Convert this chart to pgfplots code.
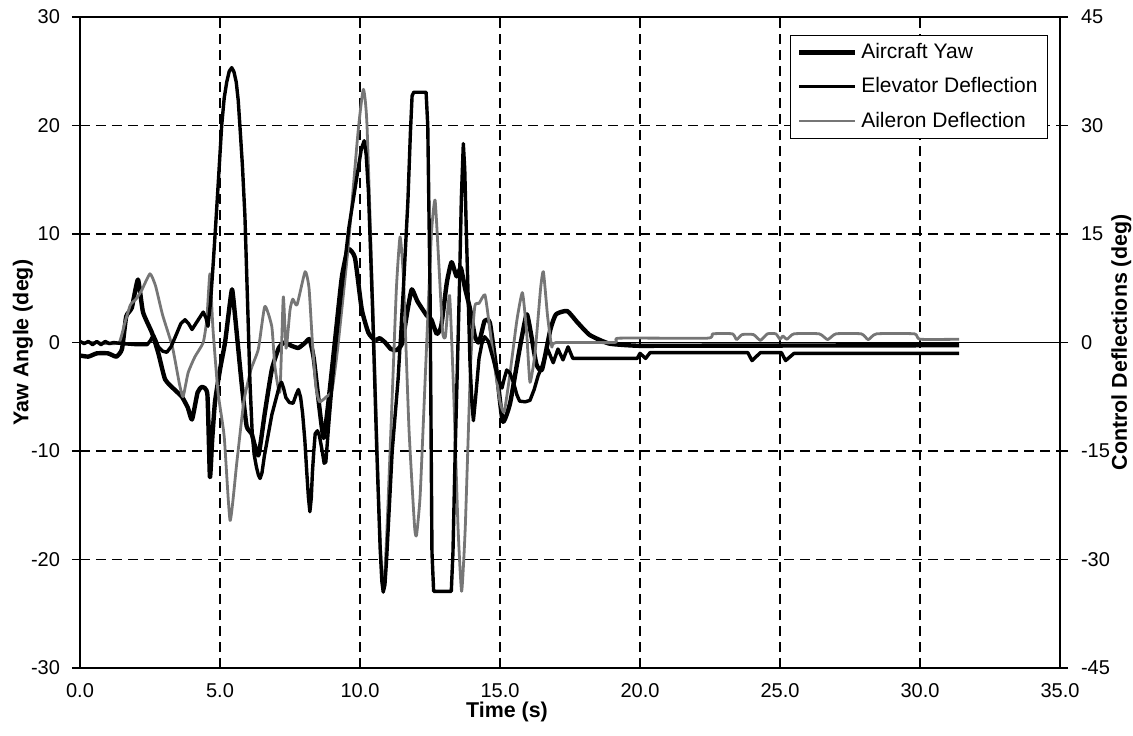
\documentclass[border=0pt]{standalone}
\usepackage{pgfplots}
\pgfplotsset{compat=1.18}
\usepackage{fontspec}
\setmainfont{Liberation Sans}
\definecolor{ailgray}{RGB}{118,118,118}

\pgfplotsset{
  base/.style={
    width=490pt, height=325.5pt, scale only axis,
    xmin=0, xmax=35,
    tick label style={font=\fontsize{10}{12}\selectfont},
    /pgf/number format/assume math mode=true,
    label style={font=\bfseries\fontsize{10.7}{13}\selectfont},
    tick align=outside, major tick length=4pt,
    tick style={black, line width=0.8pt},
    axis line style={line width=1pt},
  },
  yawline/.style={black, line width=2.2pt, line join=round},
  eleline/.style={black, line width=1.7pt, line join=round},
  ailline/.style={ailgray, line width=1.4pt, line join=round},
}

\begin{document}
\begin{tikzpicture}
% left axis: yaw angle, frame and grid
\begin{axis}[base,
  ymin=-30, ymax=30,
  ytick={-30,-20,-10,10,20,30},
  extra y ticks={0},
  extra y tick style={major grid style={solid, black, line width=0.5pt}},
  xtick={0,5,...,35},
  xticklabel style={/pgf/number format/.cd, fixed, fixed zerofill, precision=1},
  yticklabel style={xshift=-2.5pt},
  x tick style={draw=none},
  ytick pos=left, xtick pos=bottom,
  xmajorgrids, ymajorgrids,
  grid style={black, line width=0.6pt, dash pattern=on 5pt off 3pt},
  xlabel={Time (s)},
  xlabel style={at={(axis description cs:0.4357,-0.0676)}, anchor=center},
  ylabel={Yaw Angle (deg)},
  ylabel style={at={(axis description cs:-0.0582,0.5)}, anchor=center},
]
\addplot[yawline, smooth, tension=0.3] table {
0.00 -1.2
0.30 -1.3
0.60 -1.0
1.00 -1.0
1.30 -1.3
1.50 -0.6
1.65 2.4
1.85 3.2
2.07 5.8
2.25 2.8
2.57 0.9
2.80 -1.0
3.04 -3.4
3.40 -4.4
3.64 -5.0
3.85 -6.0
4.00 -7.1
4.20 -4.6
4.36 -4.1
4.55 -4.8
4.64 -12.4
4.72 -9.0
4.82 -5.5
5.00 -2.5
5.18 0.0
5.30 2.5
5.43 4.9
5.54 2.4
5.77 -3.7
5.95 -7.7
6.13 -8.4
6.37 -10.4
6.60 -6.5
6.85 -2.5
7.10 -0.5
7.30 0.0
7.55 -0.3
7.80 -0.5
8.05 0.0
8.20 0.3
8.35 -1.5
8.55 -6.0
8.70 -8.8
8.85 -6.0
9.10 0.0
9.35 6.0
9.57 8.6
9.82 7.8
10.06 3.1
10.30 0.9
10.54 0.2
10.70 0.4
10.90 0.0
11.10 -0.6
11.30 -0.7
11.50 -0.1
11.70 3.0
11.85 4.9
12.05 3.8
12.38 2.5
12.55 2.1
12.74 0.8
12.90 1.5
13.10 5.5
13.27 7.4
13.45 6.1
13.60 6.9
13.75 5.0
13.93 3.1
14.10 0.6
14.25 0.0
14.45 2.0
14.64 1.8
14.90 -3.1
15.10 -7.3
15.36 -5.6
15.70 -0.6
15.95 2.6
16.10 0.9
16.30 -2.0
16.50 -2.5
16.80 1.2
17.00 2.6
17.40 2.9
17.75 1.9
18.20 0.7
18.90 -0.1
19.90 -0.3
21.00 -0.3
31.40 -0.25
};
\end{axis}

% right axis: control deflections
\begin{axis}[base,
  ymin=-45, ymax=45,
  ytick={-45,-30,...,45},
  yticklabel style={xshift=3pt},
  axis y line*=right, axis x line=none,
  ylabel={Control Deflections (deg)},
  ylabel style={at={(axis description cs:1.0625,0.5)}, anchor=center},
  legend style={at={(0.9878,0.9724)}, anchor=north east, draw=black,
    line width=0.5pt, fill=white, font=\fontsize{10.5}{12}\selectfont,
    inner xsep=3pt, inner ysep=2pt, row sep=4pt, cells={anchor=west}},
  legend image code/.code={\draw[#1] (0pt,0pt) -- (28pt,0pt);},
]
\addlegendimage{yawline}
\addlegendentry{Aircraft Yaw}
\addlegendimage{eleline}
\addlegendentry{Elevator Deflection}
\addlegendimage{ailline}
\addlegendentry{Aileron Deflection}
% aileron
\addplot[ailline, smooth, tension=0.3, forget plot] table {
0.00 0.0
0.50 0.0
1.00 -0.15
1.40 0.0
1.60 2.7
1.80 5.2
2.00 6.0
2.20 7.2
2.50 9.5
2.70 7.8
2.95 3.8
3.30 -0.6
3.55 -5.7
3.68 -7.5
3.86 -4.2
4.10 -2.0
4.40 0.0
4.53 3.2
4.64 9.5
4.75 1.8
4.93 -6.9
5.15 -13.0
5.36 -24.6
5.60 -16.6
5.85 -8.2
6.10 -3.8
6.37 -0.9
6.60 5.0
6.85 2.2
6.96 -3.3
7.14 -6.8
7.26 6.3
7.36 -0.8
7.50 4.5
7.60 6.0
7.75 5.2
8.04 9.8
8.18 7.5
8.30 0.0
8.42 -6.0
8.55 -8.2
8.80 -7.5
9.00 -6.6
9.20 -0.9
9.57 12.9
9.93 29.1
10.12 35.0
10.25 30.0
10.50 0.0
10.70 -25.5
10.83 -34.5
10.95 -27.0
11.15 -7.5
11.30 7.5
11.43 14.6
11.55 9.0
11.75 -12.0
11.95 -25.5
12.02 -26.6
12.15 -21.0
12.35 -3.0
12.55 15.0
12.68 19.7
12.80 12.0
12.95 1.5
13.05 0.8
13.20 6.5
13.35 -7.5
13.50 -25.5
13.63 -34.4
13.76 -25.5
13.95 -3.0
14.10 5.0
14.25 5.4
14.46 6.6
14.60 3.0
14.80 -3.0
15.00 -8.2
15.15 -9.6
15.35 -4.5
15.60 3.0
15.80 6.9
15.95 1.5
16.07 -5.5
16.25 -1.5
16.45 7.5
16.55 9.8
16.70 3.6
16.85 -0.6
17.00 0.0
19.10 0.0
19.25 0.6
22.40 0.6
22.60 1.2
23.30 1.2
23.45 0.4
23.65 1.1
24.05 1.1
24.30 0.3
24.55 1.2
24.85 1.2
25.00 0.45
25.10 0.9
25.25 0.45
25.50 1.2
26.40 1.2
26.70 0.4
27.00 1.2
27.90 1.2
28.15 0.4
28.45 1.2
29.80 1.2
30.00 0.45
31.40 0.45
};
% elevator
\addplot[eleline, forget plot] table {
0.00 0.15
0.15 -0.15
0.30 0.15
0.45 -0.3
0.60 0.15
0.75 -0.3
0.90 0.15
1.05 -0.15
1.20 0.0
1.50 -0.15
2.00 -0.3
2.40 -0.3
2.52 0.3
2.62 1.05
2.70 0.4
2.80 -0.6
2.95 -1.2
3.10 -1.35
3.25 -0.6
3.40 0.75
3.60 2.6
3.75 3.15
3.88 2.6
4.00 1.8
4.20 3.0
4.40 4.2
4.50 3.4
4.57 2.25
4.66 5.5
4.75 10.5
4.85 16.5
4.94 22.2
5.06 30.0
5.15 33.8
5.24 36.0
5.33 37.5
5.42 38.0
5.50 37.4
5.58 36.0
5.65 33.5
5.71 30.0
5.80 24.5
5.89 17.5
6.00 3.6
6.07 -5.5
6.15 -12.5
6.22 -15.5
6.30 -17.2
6.37 -18.3
6.43 -18.8
6.50 -18.0
6.58 -15.8
6.70 -13.2
6.85 -10.0
7.02 -7.5
7.12 -6.0
7.20 -5.5
7.27 -6.3
7.35 -7.6
7.48 -8.3
7.61 -8.4
7.72 -7.2
7.80 -6.5
7.88 -7.6
7.95 -9.8
8.03 -13.5
8.10 -18.0
8.16 -21.5
8.21 -23.4
8.26 -21.5
8.30 -18.0
8.35 -15.0
8.40 -12.6
8.48 -12.2
8.55 -12.9
8.65 -15.0
8.72 -16.7
8.78 -16.5
8.90 -10.5
9.10 -1.5
9.35 7.5
9.60 15.8
9.90 23.2
10.05 26.8
10.15 27.9
10.22 26.0
10.30 21.0
10.45 4.5
10.60 -15.0
10.72 -28.5
10.78 -33.0
10.83 -34.5
10.89 -33.5
10.95 -30.0
11.15 -15.0
11.36 -5.1
11.55 7.5
11.71 19.5
11.80 29.0
11.86 34.1
11.92 34.6
12.36 34.6
12.42 30.0
12.50 7.5
12.57 -29.0
12.63 -34.4
13.26 -34.4
13.32 -29.0
13.40 -15.0
13.55 7.5
13.62 20.0
13.69 27.5
13.74 24.0
13.80 15.0
13.93 -3.0
14.00 -8.5
14.05 -10.8
14.12 -8.0
14.25 -2.2
14.35 -0.2
14.45 0.8
14.58 0.2
14.75 -2.2
14.92 -4.8
15.07 -6.3
15.15 -5.0
15.24 -3.8
15.35 -4.2
15.48 -5.5
15.60 -7.2
15.70 -8.1
15.90 -8.2
16.07 -8.0
16.22 -6.5
16.36 -4.6
16.50 -3.3
16.70 -0.9
16.90 -2.8
17.07 -0.9
17.25 -2.4
17.43 -0.6
17.60 -2.2
19.90 -2.2
20.00 -1.5
20.20 -2.2
20.36 -1.4
23.85 -1.4
24.00 -2.5
24.30 -1.4
25.05 -1.4
25.20 -2.5
25.50 -1.5
31.40 -1.5
};
\end{axis}
\pgfresetboundingbox
\useasboundingbox (-40pt,-33.5pt) rectangle (526.5pt,334pt);
\end{tikzpicture}
\end{document}
